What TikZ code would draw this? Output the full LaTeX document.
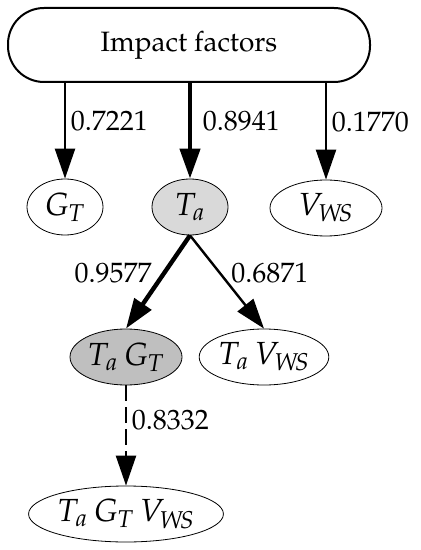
\documentclass[tikz,border=0pt]{standalone}
\usepackage[T1]{fontenc}
\usepackage{mathpazo}
\usepackage{xcolor}
\usepackage{tikz}
\usetikzlibrary{arrows.meta, positioning, shapes}

\begin{document}
\begin{tikzpicture}[
        x=0.5pt, y=-0.5pt,
        font=\fontsize{14}{16}\selectfont,
        factor/.style={ellipse, draw, inner sep=0pt, minimum height=28pt, font=\fontsize{16}{18}\selectfont},
        arrow/.style={-{Triangle[length=15pt,width=10pt]}, line width=1.2pt},
        strong/.style={arrow, line width=2.2pt}
        ]
        \useasboundingbox (0,0) rectangle (420,550);
        \node[rectangle, draw, line width=1pt, rounded corners=18pt, minimum width=181pt, minimum height=37pt] (imp) at (189,45) {Impact factors};
        \node[factor, minimum width=38pt] (gt) at (65,207) {$G_T$};
        \node[factor, minimum width=38pt, fill=black!15] (ta) at (190,207) {$T_a$};
        \node[factor, minimum width=56pt] (vws) at (326,208) {$V_{W\!S}$};
        \node[factor, minimum width=56pt, fill=black!25] (tagt) at (126,357) {$T_a\,G_T$};
        \node[factor, minimum width=58pt] (tavws) at (264,357) {$T_a\,V_{W\!S}$};
        \node[factor, minimum width=91pt] (all) at (126,514) {$T_a\,G_T\,V_{W\!S}$};

        \draw[arrow] (imp.south -| gt) -- (gt) node[pos=0.4, right=-1pt] {0.7221};
        \draw[strong] (imp.south -| ta) -- (ta) node[pos=0.4, right=2pt] {0.8941};
        \draw[arrow] (imp.south -| vws) -- (vws) node[pos=0.4, right=-1pt] {0.1770};
        \draw[strong] (ta.south) -- (tagt.north) node[pos=0.4, left=2pt] {0.9577};
        \draw[arrow] (ta.south) -- (tavws.north) node[pos=0.4, right=2pt] {0.6871};
        \draw[arrow, dash pattern=on 8pt off 3pt] (tagt) -- (all) node[pos=0.35, right=-1pt] {0.8332};
\end{tikzpicture}
\end{document}
